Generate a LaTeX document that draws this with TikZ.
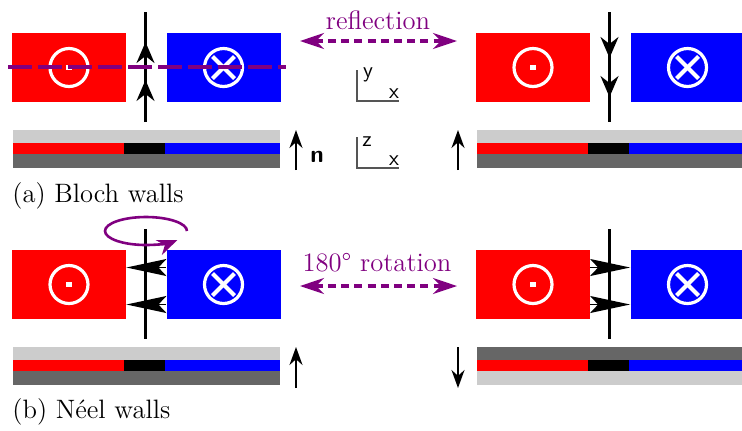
\documentclass[tikz,border=0pt]{standalone}
\usepackage{tikz}
\usetikzlibrary{arrows.meta,positioning,decorations.markings}

\begin{document}
\begin{tikzpicture}[
    x=0.5pt, y=-0.5pt,
    every node/.style={font=\fontsize{13.3}{16}\selectfont},
  ]
    \definecolor{domred}{HTML}{FF0000}
    \definecolor{domblue}{HTML}{0000FF}
    \definecolor{layerlight}{HTML}{CCCCCC}
    \definecolor{layerdark}{HTML}{666666}
    \definecolor{sympurple}{HTML}{800080}
    \definecolor{axisgray}{HTML}{555555}

    \tikzset{
      dombox/.style={minimum width=57pt, minimum height=34.5pt, inner sep=0pt},
      symring/.style={circle, draw=white, line width=1.6pt, minimum size=19pt, inner sep=0pt},
      wall/.style={line width=1.2pt},
      blochwall/.style 2 args={wall, postaction={decorate}, decoration={markings,
        mark=at position #1 with {\arrow{Stealth[length=10.5pt, width=9pt, inset=3.5pt]}},
        mark=at position #2 with {\arrow{Stealth[length=10.5pt, width=9pt, inset=3.5pt]}}}},
      neelhead/.style={-{Stealth[length=20pt, width=8.5pt, inset=4pt]}, line width=0.8pt},
      nvec/.style={line width=1pt, -{Stealth[length=9pt, width=6.5pt]}},
      axis/.style={axisgray, line width=0.7pt},
      axlabel/.style={font=\sffamily\fontsize{11}{13}\selectfont, inner sep=0pt},
      symop/.style={sympurple, line width=1.6pt, dash pattern=on 4pt off 2.6pt,
        {Stealth[length=12pt, width=8pt]}-{Stealth[length=12pt, width=8pt]}},
      mirror/.style={sympurple, line width=2pt, dash pattern=on 12pt off 3pt},
      caption/.style={anchor=west, inner sep=0pt},
    }

    \newcommand{\domainpair}[1]{%
      \node[dombox, fill=domred] (#1red) at (69,67.5) {};
      \node[dombox, fill=domblue] (#1blue) at (223.5,67.5) {};
      \node[symring] (#1out) at (#1red) {};
      \fill[white] ([shift={(-1.4pt,-1.4pt)}]#1out.center) rectangle ([shift={(1.4pt,1.4pt)}]#1out.center);
      \node[symring] (#1in) at (#1blue) {};
      \draw[white, line width=2pt] ([shift={(-5.5pt,-5.5pt)}]#1in.center) -- ([shift={(5.5pt,5.5pt)}]#1in.center);
      \draw[white, line width=2pt] ([shift={(-5.5pt,5.5pt)}]#1in.center) -- ([shift={(5.5pt,-5.5pt)}]#1in.center);
      \coordinate (#1top) at (145.5,12);
      \coordinate (#1bot) at (145.5,122);
    }
    \newcommand{\layerstrip}[2]{%
      \fill[#1] (13,130) rectangle (280,143);
      \fill[domred] (13,143) rectangle (124,154);
      \fill[black] (124,143) rectangle (165,154);
      \fill[domblue] (165,143) rectangle (280,154);
      \fill[#2] (13,154) rectangle (280,168);
    }

    \useasboundingbox (0,0) rectangle (742,430);

    % -------- (a) Bloch walls, left --------
    \domainpair{bl}
    \layerstrip{layerlight}{layerdark}
    \draw[blochwall={0.382}{0.727}] (blbot) -- (bltop);
    \coordinate (mirL) at (8,67);
    \coordinate (mirR) at (286,67);
    \draw[mirror] (mirL) -- (mirR);

    % -------- (a) Bloch walls, right --------
    \begin{scope}[xshift=232pt]
      \domainpair{br}
      \layerstrip{layerlight}{layerdark}
      \draw[blochwall={0.418}{0.773}] (brtop) -- (brbot);
    \end{scope}

    % -------- (b) Neel walls, left --------
    \begin{scope}[yshift=-108.5pt]
      \domainpair{nl}
      \layerstrip{layerlight}{layerdark}
      \draw[wall] (nltop) -- (nlbot);
      \draw[neelhead] ([yshift=8.5pt]nlblue.west) -- ([yshift=8.5pt]nlred.east);
      \draw[neelhead] ([yshift=-10pt]nlblue.west) -- ([yshift=-10pt]nlred.east);
      % rotation about the wall axis
      \coordinate (rotstart) at (187,14);
      \draw[sympurple, line width=1.3pt, -{Stealth[length=10pt, width=8pt]}]
        (rotstart) arc[start angle=0, end angle=-320, x radius=41, y radius=14];
    \end{scope}

    % -------- (b) Neel walls, right --------
    \begin{scope}[xshift=232pt, yshift=-108.5pt]
      \domainpair{nr}
      \layerstrip{layerdark}{layerlight}
      \draw[wall] (nrtop) -- (nrbot);
      \draw[neelhead] ([yshift=8.5pt]nrred.east) -- ([yshift=8.5pt]nrblue.west);
      \draw[neelhead] ([yshift=-10pt]nrred.east) -- ([yshift=-10pt]nrblue.west);
    \end{scope}

    % -------- normal vectors and axes --------
    \coordinate (naLbot) at (296,170);
    \coordinate (naLtop) at (296,130);
    \coordinate (naRbot) at (458,170);
    \coordinate (naRtop) at (458,130);
    \draw[nvec] (naLbot) -- (naLtop);
    \draw[nvec] (naRbot) -- (naRtop);
    \node[axlabel, font=\sffamily\bfseries\fontsize{12}{14}\selectfont] (nlab) at (317,157) {n};

    \coordinate (nbLbot) at (296,388);
    \coordinate (nbLtop) at (296,347);
    \coordinate (nbRbot) at (458,388);
    \coordinate (nbRtop) at (458,347);
    \draw[nvec] (nbLbot) -- (nbLtop);
    \draw[nvec] (nbRtop) -- (nbRbot);

    \coordinate (xyo) at (357,101);
    \draw[axis] (357,70) -- (xyo) -- (399,101);
    \node[axlabel] (ylab) at (368,75) {y};
    \node[axlabel] (xlab1) at (394,94) {x};
    \coordinate (xzo) at (357,168);
    \draw[axis] (357,137) -- (xzo) -- (399,168);
    \node[axlabel] (zlab) at (367,142) {z};
    \node[axlabel] (xlab2) at (394,161) {x};

    % -------- symmetry operations --------
    \node[sympurple] (refl) at (378,20) {reflection};
    \coordinate (reflL) at (300,41);
    \coordinate (reflR) at (457,41);
    \draw[symop] (reflL) -- (reflR);

    \node[sympurple] (rot) at (377,263) {180\textdegree{} rotation};
    \coordinate (rotL) at (300,286);
    \coordinate (rotR) at (457,286);
    \draw[symop] (rotL) -- (rotR);

    % -------- captions --------
    \node[caption] (capa) at (12,196) {(a) Bloch walls};
    \node[caption] (capb) at (12,412) {(b) N\'eel walls};
  \end{tikzpicture}
\end{document}
